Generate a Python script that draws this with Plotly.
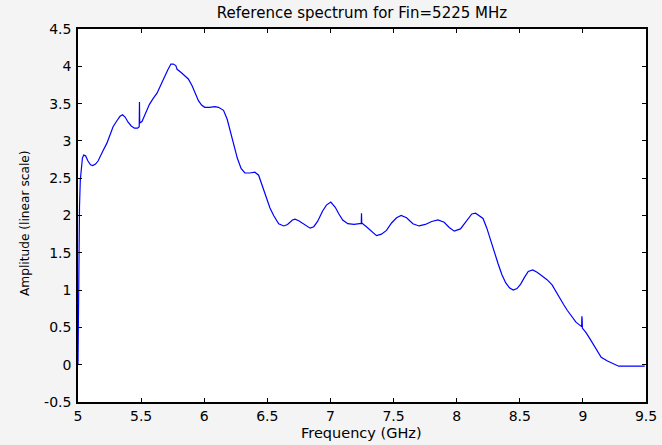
import plotly.graph_objects as go

# Frequency (GHz) and amplitude (linear)
freq = [
    5.000, 5.003, 5.008, 5.012, 5.018, 5.025, 5.035, 5.045, 5.060, 5.079,
    5.099, 5.116, 5.139, 5.159, 5.179, 5.199, 5.229, 5.258, 5.278, 5.308,
    5.333, 5.353, 5.373, 5.397, 5.422, 5.447, 5.472, 5.485, 5.487, 5.489,
    5.507, 5.537, 5.566, 5.596, 5.626, 5.656, 5.686, 5.711, 5.736, 5.755,
    5.775, 5.785, 5.815, 5.845, 5.874, 5.904, 5.934, 5.954, 5.979, 6.004,
    6.043, 6.083, 6.113, 6.153, 6.182, 6.212, 6.242, 6.262, 6.292, 6.322,
    6.361, 6.401, 6.431, 6.461, 6.491, 6.521, 6.550, 6.590, 6.630, 6.660,
    6.699, 6.719, 6.749, 6.789, 6.839, 6.868, 6.898, 6.938, 6.968, 7.003,
    7.038, 7.067, 7.097, 7.137, 7.187, 7.231, 7.244, 7.246, 7.248, 7.285,
    7.325, 7.365, 7.404, 7.444, 7.484, 7.524, 7.560, 7.603, 7.653, 7.702,
    7.752, 7.802, 7.852, 7.901, 7.941, 7.981, 8.030, 8.080, 8.120, 8.150,
    8.179, 8.209, 8.239, 8.269, 8.299, 8.329, 8.358, 8.388, 8.418, 8.448,
    8.478, 8.507, 8.537, 8.567, 8.602, 8.637, 8.677, 8.716, 8.756, 8.786,
    8.816, 8.846, 8.876, 8.915, 8.945, 8.990, 8.992, 8.994, 8.996, 9.025,
    9.055, 9.085, 9.115, 9.145, 9.195, 9.244, 9.284, 9.400, 9.490,
]
amplitude = [
    0.01, 0.98, 2.07, 2.12, 2.47, 2.59, 2.77, 2.81, 2.80, 2.73,
    2.68, 2.67, 2.69, 2.73, 2.79, 2.87, 2.97, 3.10, 3.19, 3.27,
    3.33, 3.35, 3.32, 3.25, 3.20, 3.17, 3.17, 3.19, 3.52, 3.24,
    3.26, 3.37, 3.49, 3.57, 3.64, 3.75, 3.87, 3.95, 4.03, 4.03,
    4.01, 3.96, 3.92, 3.88, 3.83, 3.74, 3.63, 3.54, 3.48, 3.45,
    3.45, 3.46, 3.45, 3.41, 3.29, 3.09, 2.89, 2.77, 2.63, 2.57,
    2.57, 2.58, 2.54, 2.39, 2.24, 2.10, 2.00, 1.89, 1.86, 1.88,
    1.94, 1.95, 1.93, 1.88, 1.83, 1.85, 1.92, 2.06, 2.14, 2.18,
    2.11, 2.02, 1.94, 1.89, 1.88, 1.89, 1.89, 2.03, 1.90, 1.85,
    1.79, 1.73, 1.75, 1.80, 1.90, 1.97, 2.00, 1.97, 1.89, 1.86,
    1.88, 1.92, 1.94, 1.91, 1.84, 1.79, 1.82, 1.93, 2.02, 2.03,
    2.00, 1.96, 1.83, 1.66, 1.49, 1.35, 1.21, 1.10, 1.03, 1.00,
    1.02, 1.08, 1.17, 1.25, 1.27, 1.24, 1.19, 1.14, 1.07, 0.98,
    0.88, 0.81, 0.73, 0.63, 0.57, 0.51, 0.65, 0.62, 0.49, 0.43,
    0.35, 0.27, 0.18, 0.10, 0.05, 0.01, -0.02, -0.02, -0.02,
]

x_tickvals = [5, 5.5, 6, 6.5, 7, 7.5, 8, 8.5, 9, 9.5]
x_ticktext = ["5", "5.5", "6", "6.5", "7", "7.5", "8", "8.5", "9", "9.5"]
y_tickvals = [-0.5, 0, 0.5, 1, 1.5, 2, 2.5, 3, 3.5, 4, 4.5]
y_ticktext = ["-0.5", "0", "0.5", "1", "1.5", "2", "2.5", "3", "3.5", "4", "4.5"]

title_text = "Reference spectrum for Fin=5225 MHz"
x_label = "Frequency (GHz)"
y_label = "Amplitude (linear scale)"

font_family = "DejaVu Sans, Liberation Sans, Arial, sans-serif"
W, H = 662, 445
ML, MR, MT, MB = 78, 16, 29, 43
PW, PH = W - ML - MR, H - MT - MB

fig = go.Figure()
fig.add_trace(go.Scatter(
    x=freq, y=amplitude, mode="lines",
    line=dict(color="#0000ff", width=1.2),
    showlegend=False, hoverinfo="x+y",
))

axis_common = dict(
    showline=True, linecolor="black", linewidth=1.5, mirror="ticks",
    ticks="inside", ticklen=4, tickcolor="black", tickwidth=1,
    showgrid=False, zeroline=False, automargin=False,
    tickfont=dict(family=font_family, size=14, color="black"),
)

fig.update_layout(
    width=W, height=H,
    margin=dict(l=ML, r=MR, t=MT, b=MB),
    paper_bgcolor="#f4f4f4", plot_bgcolor="white",
    font=dict(family=font_family, size=14, color="black"),
    title=dict(text=title_text, x=0.5, xref="paper", y=1 - 13 / H,
               yref="container", xanchor="center", yanchor="middle",
               font=dict(family=font_family, size=15, color="black")),
    xaxis=dict(range=[5, 9.5], tickvals=x_tickvals, ticktext=x_ticktext,
               ticklabelstandoff=0, **axis_common),
    yaxis=dict(range=[-0.5, 4.5], tickvals=y_tickvals, ticktext=y_ticktext,
               ticklabelstandoff=2, **axis_common),
    annotations=[
        dict(text=y_label, textangle=-90, showarrow=False,
             xref="paper", yref="paper",
             x=(25 - ML) / PW, y=(H - MB - 223) / PH,
             xanchor="center", yanchor="middle",
             font=dict(family=font_family, size=12.2, color="black")),
        dict(text=x_label, showarrow=False,
             xref="paper", yref="paper",
             x=(361 - ML) / PW, y=(H - MB - 433) / PH,
             xanchor="center", yanchor="middle",
             font=dict(family=font_family, size=14.5, color="black")),
    ],
)

fig.write_html("out.html")
